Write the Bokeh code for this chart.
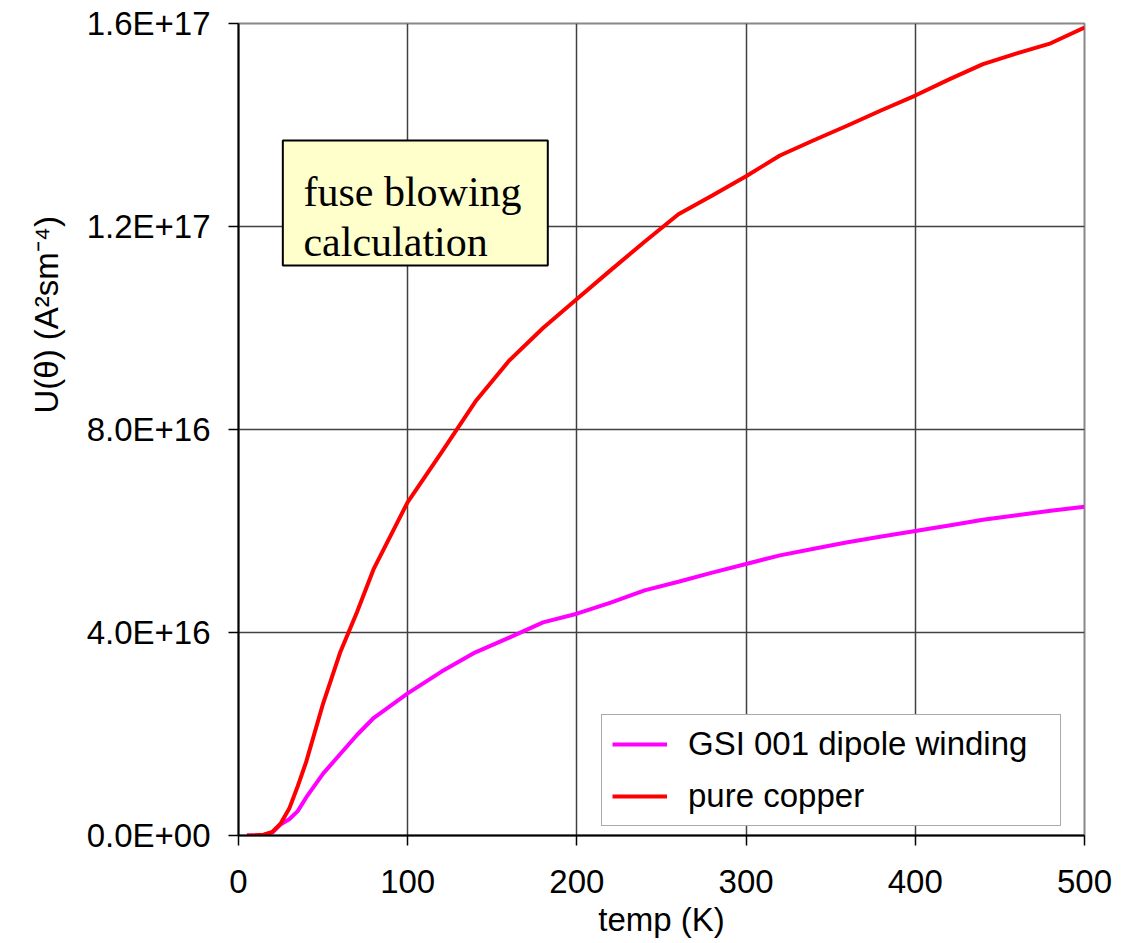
from bokeh.plotting import figure
from bokeh.models import (Range1d, FixedTicker, CustomJSTickFormatter, Legend, LegendItem,
                          BoxAnnotation, Label, Title, ColumnDataSource)
from bokeh.embed import file_html
from bokeh.resources import INLINE

# ---- data ----
temp_K = [5, 10, 15, 20, 25, 30, 35, 40, 50, 60, 70, 80, 100, 120, 140, 160, 180,
          200, 220, 240, 260, 280, 300, 320, 340, 360, 380, 400, 420, 440, 460, 480, 500]

u_gsi_dipole = [0.0, 0.05e15, 0.15e15, 0.6e15, 2.2e15, 3.2e15, 4.8e15, 7.5e15, 12.2e15,
                16.0e15, 19.8e15, 23.2e15, 28.0e15, 32.3e15, 36.1e15, 39.0e15, 42.0e15,
                43.7e15, 45.9e15, 48.3e15, 50.0e15, 51.8e15, 53.5e15, 55.2e15, 56.5e15,
                57.8e15, 58.9e15, 60.0e15, 61.1e15, 62.2e15, 63.1e15, 64.0e15, 64.8e15]

u_pure_copper = [0.0, 0.05e15, 0.15e15, 0.7e15, 2.4e15, 5.3e15, 9.7e15, 14.5e15, 26.0e15,
                 36.0e15, 44.0e15, 52.6e15, 65.7e15, 75.5e15, 85.5e15, 93.6e15, 100.0e15,
                 105.7e15, 111.4e15, 117.0e15, 122.4e15, 126.1e15, 129.9e15, 134.0e15, 137.0e15,
                 139.9e15, 142.9e15, 145.8e15, 149.0e15, 152.0e15, 154.1e15, 156.1e15, 159.2e15]

series_names = ["GSI 001 dipole winding", "pure copper"]
series_colors = ["#FF00FF", "#FF0000"]
x_ticks = [0, 100, 200, 300, 400, 500]
y_ticks = [0.0, 4.0e16, 8.0e16, 1.2e17, 1.6e17]
x_title = "temp (K)"
y_title = "U(\u03b8) (A\u00b2sm\u207b\u2074)"
note_lines = ["fuse blowing", "calculation"]

SANS = "Liberation Sans"
SERIF = "Liberation Serif"

p = figure(width=1126, height=943, output_backend="svg", toolbar_location=None,
           x_range=Range1d(0, 500), y_range=Range1d(0, 1.6e17),
           min_border_left=238, min_border_right=42, min_border_top=23, min_border_bottom=108,
           background_fill_color="white", border_fill_color="white")

src = ColumnDataSource(dict(t=temp_K, gsi=u_gsi_dipole, cu=u_pure_copper))
r_gsi = p.line("t", "gsi", source=src, line_color=series_colors[0], line_width=4)
r_cu = p.line("t", "cu", source=src, line_color=series_colors[1], line_width=4)

# axes
p.xaxis.ticker = FixedTicker(ticks=x_ticks)
p.yaxis.ticker = FixedTicker(ticks=y_ticks)
p.yaxis.formatter = CustomJSTickFormatter(code="""
    var s = tick.toExponential(1).toUpperCase();
    var parts = s.split("E");
    var sign = parts[1][0];
    var d = parts[1].slice(1);
    if (d.length < 2) { d = "0" + d; }
    return parts[0] + "E" + sign + d;
""")
for ax in (p.xaxis[0], p.yaxis[0]):
    ax.axis_line_color = "black"
    ax.axis_line_width = 2
    ax.major_tick_line_color = "black"
    ax.major_tick_line_width = 1.5
    ax.major_tick_out = 10
    ax.major_tick_in = 0
    ax.minor_tick_line_color = None
    ax.major_label_text_font = SANS
    ax.major_label_text_font_size = "33px"
    ax.major_label_text_color = "black"
    ax.major_label_standoff = 18
p.xaxis.major_label_standoff = 24

p.xaxis.axis_label = x_title
p.xaxis.axis_label_text_font = SANS
p.xaxis.axis_label_text_font_size = "33px"
p.xaxis.axis_label_text_font_style = "normal"
p.xaxis.axis_label_text_color = "black"
p.xaxis.axis_label_standoff = 5

# y title, placed like the reference (shifted upward from the frame centre)
p.add_layout(Title(text=y_title, align="left", offset=422, standoff=38,
                   text_font=SANS, text_font_size="33px", text_font_style="normal",
                   text_color="black"), "left")

# grid and frame
p.xgrid.ticker = FixedTicker(ticks=x_ticks)
p.ygrid.ticker = FixedTicker(ticks=y_ticks)
p.grid.grid_line_color = "#404040"
p.grid.grid_line_width = 1.5
p.outline_line_color = "#888888"
p.outline_line_width = 2

# annotation box
p.add_layout(BoxAnnotation(left=26.2, right=182.8, top=1.3695e17, bottom=1.1232e17,
                           fill_color="#FFFFCC", fill_alpha=1.0,
                           line_color="black", line_alpha=1.0, line_width=2,
                           level="annotation"))
p.add_layout(Label(x=38.4, y=1.267e17, text=note_lines[0], text_font=SERIF,
                   text_font_size="42px", text_color="black", text_baseline="alphabetic"))
p.add_layout(Label(x=38.4, y=1.1685e17, text=note_lines[1], text_font=SERIF,
                   text_font_size="42px", text_color="black", text_baseline="alphabetic"))

# legend
legend = Legend(items=[LegendItem(label=series_names[0], renderers=[r_gsi]),
                       LegendItem(label=series_names[1], renderers=[r_cu])],
                location=(363, 9), margin=0, padding=10, spacing=14,
                glyph_width=55, glyph_height=38, label_standoff=21, label_width=362,
                label_text_font=SANS, label_text_font_size="33px", label_text_color="black",
                border_line_color="#555555", border_line_width=1.5,
                background_fill_color="white", background_fill_alpha=1.0)
p.add_layout(legend)

open("out.html", "w").write(file_html(p, INLINE))
